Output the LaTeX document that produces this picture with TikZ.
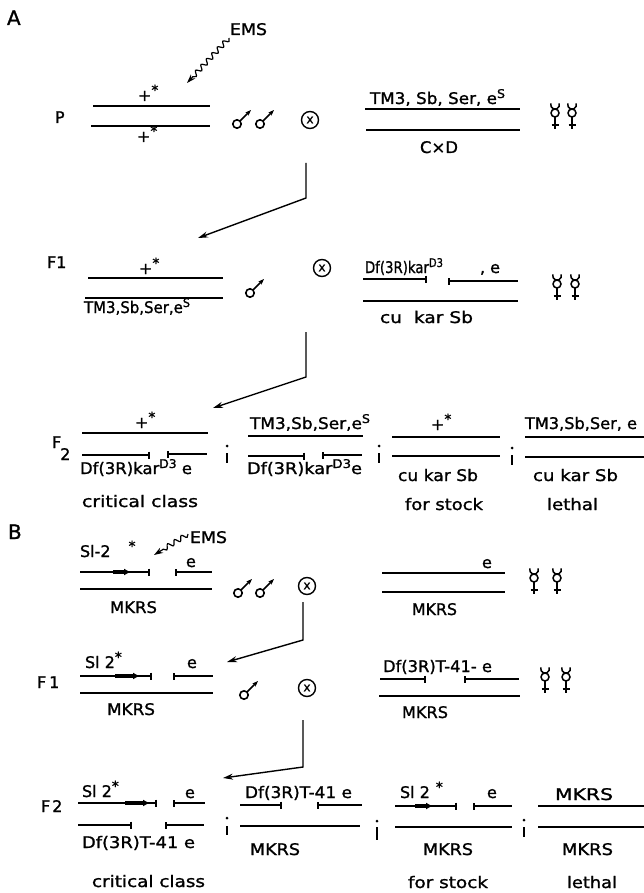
\documentclass[tikz,border=0pt]{standalone}
\usepackage{fontspec}
\setmainfont{DejaVu Sans}[FakeBold=1.2]
\usepackage{graphicx}
\usetikzlibrary{arrows.meta,decorations.pathmorphing}
\newcommand{\fs}[1]{\fontsize{#1}{#1}\selectfont}
\newcommand{\W}[2]{\resizebox{#1pt}{\height}{#2}}
\newcommand{\hi}[2][12]{\raisebox{6pt}{\fs{#1}#2}}
\newcommand{\sstar}{\hi[14]{*}}
\newcommand{\semi}[4]{\fill (#1,#2) circle (1.5); \draw[line width=1.6pt] (#1,#3) -- (#1,#4);}
\begin{document}
\begin{tikzpicture}[x=1pt,y=-1pt,
  lab/.style={anchor=base west,inner sep=0pt,outer sep=0pt,font=\fs{16}},
  gen/.style={lab,font=\fs{16}},
  panel/.style={lab,font=\fs{20}},
  chrom/.style={line width=2.3pt},
  chromR/.style={chrom,-{Bar[width=7pt,line width=1.6pt]}},
  chromL/.style={chrom,{Bar[width=7pt,line width=1.6pt]}-},
  slarrow/.style={line width=3.4pt,-{Latex[length=7pt,width=7pt]}},
  cross/.style={draw,circle,minimum size=17pt,inner sep=0pt,line width=1.4pt,font=\fs{12}},
  flow/.style={line width=1.4pt,-{Stealth[length=10pt,width=6pt]}},
  ems/.style={line width=1.2pt,decorate,decoration={snake,amplitude=2.4pt,segment length=8pt,post length=8pt},-{Stealth[length=9pt,width=6pt]}},
  male/.pic={\draw[line width=1.6pt] (0,0) circle (4.2);
             \draw[line width=1.6pt,-{Stealth[length=6pt,width=4.5pt]}] (3,-3) -- (14,-14);},
  fem/.pic={\draw[line width=1.5pt] (0,0) circle (4);
            \draw[line width=1.5pt] (-4.1,-9.7) arc[start angle=200,end angle=-20,radius=4.4];
            \draw[line width=1.5pt] (0,4) -- (0,16) (-3.5,12) -- (3.5,12);}
]
\useasboundingbox (0,0) rectangle (644,893);

% ================= A =================
\node[panel] (lA) at (7,25) {A};
\node[lab] (emsA) at (230,35) {\W{37}{EMS}};
\coordinate (emsAs) at (229,38);
\coordinate (emsAt) at (187,83);
\draw[ems] (emsAs) -- (emsAt);

% P generation
\node[gen] (P) at (55,123) {P};
\node[lab] (pA1) at (138,101) {+\sstar};
\node[lab] (pA2) at (137,142) {+\sstar};
\draw[chrom] (93,106) -- (210,106);
\draw[chrom] (91,126) -- (210,126);
\pic (mA1) at (237,124) {male};
\pic (mA2) at (260,124) {male};
\node[cross] (xA1) at (310,120) {x};
\node[lab] (tmA) at (370,104) {\W{135}{TM3, Sb, Ser, e\hi{S}}};
\draw[chrom] (365,109) -- (520,109);
\draw[chrom] (366,130) -- (520,130);
\node[lab] (cxd) at (420,153) {\W{38}{C×D}};
\pic (fA1) at (555,113) {fem};
\pic (fA2) at (572,113) {fem};

\coordinate (a1s) at (306,163);
\coordinate (a1b) at (306,198);
\coordinate (a1t) at (198,238);
\draw[flow] (a1s) -- (a1b) -- (a1t);

% F1
\node[gen] (F1a) at (47,268) {F1};
\node[lab] (pA3) at (139,274) {+\sstar};
\draw[chrom] (88,278) -- (223,278);
\draw[chrom] (85,298) -- (223,298);
\node[lab] (tmA2) at (84,313) {\W{106}{TM3,Sb,Ser,e\hi{S}}};
\pic (mA3) at (250,293) {male};
\node[cross] (xA2) at (322,268) {x};
\node[lab] (dfA1) at (365,273) {\W{78}{Df(3R)kar\hi{D3}}};
\node[lab] (eA1) at (480,273) {, e};
\draw[chromR] (363,279) -- (427,279);
\draw[chromL] (448,281) -- (518,281);
\draw[chrom] (363,301) -- (518,301);
\node[lab] (cuA1) at (380,323) {\W{93}{cu\ \ kar\ Sb}};
\pic (fA3) at (557,284) {fem};
\pic (fA4) at (575,284) {fem};

\coordinate (a2s) at (306,332);
\coordinate (a2b) at (306,377);
\coordinate (a2t) at (213,408);
\draw[flow] (a2s) -- (a2b) -- (a2t);

% F2
\node[gen] (F2a) at (52,448) {F\kern-1pt\raisebox{-12pt}{2}};
\node[lab] (pA4) at (135,428) {+\sstar};
\draw[chrom] (82,433) -- (208,433);
\draw[chromR] (82,455) -- (150,455);
\draw[chromL] (167,454) -- (207,454);
\node[lab] (dfA2) at (80,474) {\W{112}{Df(3R)kar\hi{D3} e}};
\node[lab] (ccA) at (82,507) {\W{116}{critical class}};
\semi{227}{446}{453}{463}

\node[lab] (tmA3) at (250,429) {\W{120}{TM3,Sb,Ser,e\hi{S}}};
\draw[chrom] (248,436) -- (363,436);
\draw[chromR] (248,456) -- (305,456);
\draw[chromL] (322,455) -- (362,455);
\node[lab] (dfA3) at (247,474) {\W{115}{Df(3R)kar\hi{D3}e}};
\semi{379}{446}{453}{463}

\node[lab] (pA5) at (431,430) {+\sstar};
\draw[chrom] (392,437) -- (500,437);
\draw[chrom] (392,456) -- (500,456);
\node[lab] (cuA2) at (398,481) {\W{80}{cu kar Sb}};
\node[lab] (fsA) at (405,510) {\W{78}{for stock}};
\semi{512}{448}{455}{465}

\node[lab] (tmA4) at (525,429) {\W{112}{TM3,Sb,Ser, e}};
\draw[chrom] (525,437) -- (644,437);
\draw[chrom] (525,457) -- (644,457);
\node[lab] (cuA3) at (533,481) {\W{85}{cu kar Sb}};
\node[lab] (leA) at (547,510) {\W{51}{lethal}};

% ================= B =================
\node[panel] (lB) at (8,539) {B};
\node[lab] (emsB) at (190,543) {\W{37}{EMS}};
\coordinate (emsBs) at (188,534);
\coordinate (emsBt) at (154,555);
\draw[ems] (emsBs) -- (emsBt);

% P generation
\node[lab] (slB1) at (80,557) {Sl-2\hspace{18pt}\sstar};
\node[lab] (eB1) at (186,567) {e};
\draw[chromR] (80,572) -- (150,572);
\draw[slarrow] (113,572) -- (131,572);
\draw[chromL] (175,572) -- (212,572);
\draw[chrom] (80,589) -- (212,589);
\node[lab] (mkB1) at (110,613) {\W{47}{MKRS}};
\pic (mB1) at (238,593) {male};
\pic (mB2) at (260,593) {male};
\node[cross] (xB1) at (307,586) {x};
\node[lab] (eB2) at (482,568) {e};
\draw[chrom] (382,573) -- (505,573);
\draw[chrom] (382,592) -- (505,592);
\node[lab] (mkB2) at (412,615) {\W{45}{MKRS}};
\pic (fB1) at (534,578) {fem};
\pic (fB2) at (557,578) {fem};

\coordinate (b1s) at (303,602);
\coordinate (b1b) at (303,640);
\coordinate (b1t) at (227,662);
\draw[flow] (b1s) -- (b1b) -- (b1t);

% F1
\node[gen] (F1b) at (37,688) {F\hspace{3pt}1};
\node[lab] (slB2) at (85,668) {Sl 2\sstar};
\node[lab] (eB3) at (187,668) {e};
\draw[chromR] (80,676) -- (152,676);
\draw[slarrow] (115,676) -- (140,676);
\draw[chromL] (173,676) -- (213,676);
\draw[chrom] (80,693) -- (213,693);
\node[lab] (mkB3) at (107,715) {\W{48}{MKRS}};
\pic (mB3) at (244,695) {male};
\node[cross] (xB2) at (307,688) {x};
\node[lab] (dfB1) at (383,672) {\W{109}{Df(3R)T-41- e}};
\draw[chromR] (380,679) -- (426,679);
\draw[chromL] (464,679) -- (519,679);
\draw[chrom] (379,696) -- (520,696);
\node[lab] (mkB4) at (402,718) {\W{46}{MKRS}};
\pic (fB3) at (545,677) {fem};
\pic (fB4) at (566,677) {fem};

\coordinate (b2s) at (303,720);
\coordinate (b2b) at (303,767);
\coordinate (b2t) at (223,778);
\draw[flow] (b2s) -- (b2b) -- (b2t);

% F2
\node[gen] (F2b) at (41,812) {F\hspace{2pt}2};
\node[lab] (slB3) at (82,797) {Sl 2\sstar};
\node[lab] (eB4) at (185,798) {e};
\draw[chromR] (78,803) -- (157,803);
\draw[slarrow] (125,803) -- (150,803);
\draw[chromL] (173,803) -- (205,803);
\draw[chromR] (78,825) -- (132,825);
\draw[chromL] (165,825) -- (204,825);
\node[lab] (dfB2) at (82,848) {\W{113}{Df(3R)T-41 e}};
\node[lab] (ccB) at (92,887) {\W{113}{critical class}};
\semi{227}{818}{826}{835}

\node[lab] (dfB3) at (245,798) {\W{107}{Df(3R)T-41 e}};
\draw[chromR] (240,805) -- (282,805);
\draw[chromL] (317,805) -- (362,805);
\draw[chrom] (240,826) -- (360,826);
\node[lab] (mkB5) at (250,855) {\W{50}{MKRS}};
\semi{377}{821}{827}{840}

\node[lab] (slB4) at (400,798) {Sl 2\hspace{6pt}\sstar};
\node[lab] (eB5) at (487,798) {e};
\draw[chromR] (395,806) -- (457,806);
\draw[slarrow] (415,806) -- (433,806);
\draw[chromL] (473,806) -- (512,806);
\draw[chrom] (395,827) -- (512,827);
\node[lab] (mkB6) at (423,855) {\W{50}{MKRS}};
\node[lab] (fsB) at (408,888) {\W{80}{for stock}};
\semi{524}{820}{827}{837}

\node[lab] (mkB7) at (555,800) {\W{58}{MKRS}};
\draw[chrom] (538,806) -- (644,806);
\draw[chrom] (538,827) -- (644,827);
\node[lab] (mkB8) at (562,855) {\W{51}{MKRS}};
\node[lab] (leB) at (567,888) {\W{50}{lethal}};
\end{tikzpicture}
\end{document}
